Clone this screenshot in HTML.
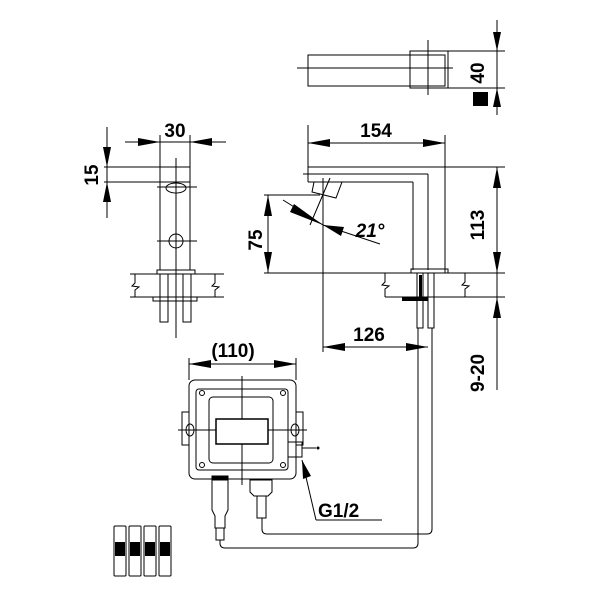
<!DOCTYPE html>
<html><head><meta charset="utf-8"><style>html,body{margin:0;padding:0;background:#fff}svg{display:block}</style></head>
<body>
<svg width="600" height="600" viewBox="0 0 600 600" xmlns="http://www.w3.org/2000/svg" font-family="'Liberation Sans',sans-serif" font-weight="bold">
<g fill="none" stroke="#000" stroke-width="1">
<rect x="308" y="55" width="137" height="31"/>
<rect x="410" y="51" width="38" height="37"/>
<line x1="297" y1="68" x2="453" y2="68"/>
<line x1="428" y1="40" x2="428" y2="95"/>
<line x1="448" y1="51" x2="505" y2="51"/>
<line x1="448" y1="88" x2="505" y2="88"/>
<line x1="497" y1="20" x2="497" y2="115"/>
<line x1="308" y1="143" x2="445" y2="143"/>
<line x1="308" y1="125" x2="308" y2="182"/>
<line x1="445" y1="135" x2="445" y2="273"/>
<line x1="308" y1="167" x2="505" y2="167"/>
<line x1="303" y1="174" x2="428" y2="174"/>
<line x1="428" y1="174" x2="428" y2="270"/>
<line x1="308" y1="182" x2="413" y2="182"/>
<line x1="413" y1="182" x2="413" y2="270"/>
<polygon points="314,182 342,182 336,198 312,192"/>
<line x1="310" y1="225" x2="330" y2="178"/>
<line x1="323" y1="178" x2="323" y2="352"/>
<line x1="264" y1="195" x2="320" y2="195"/>
<line x1="268" y1="195" x2="268" y2="273"/>
<line x1="264" y1="273" x2="505" y2="273"/>
<line x1="283" y1="200" x2="323" y2="225"/>
<line x1="323" y1="225" x2="380" y2="244"/>
<rect x="411" y="269" width="37" height="4"/>
<line x1="385" y1="297" x2="505" y2="297"/>
<path d="M385 273 V282 L382 285 L389 286 L385 289 V297"/>
<path d="M465 273 V282 L462 285 L469 286 L465 289 V297"/>
<rect x="417" y="273" width="6" height="55"/>
<rect x="428" y="273" width="6" height="55"/>
<line x1="497" y1="167" x2="497" y2="390"/>
<line x1="323" y1="347" x2="428" y2="347"/>
<line x1="418" y1="328" x2="418" y2="540"/>
<line x1="432" y1="328" x2="432" y2="526"/>
<line x1="125" y1="142" x2="226" y2="142"/>
<line x1="160" y1="135" x2="160" y2="270"/>
<line x1="190" y1="135" x2="190" y2="270"/>
<line x1="107" y1="127" x2="107" y2="218"/>
<line x1="104" y1="167" x2="190" y2="167"/>
<line x1="104" y1="182" x2="190" y2="182"/>
<line x1="176" y1="158" x2="176" y2="338"/>
<ellipse cx="176" cy="188" rx="10" ry="5"/>
<line x1="157" y1="187" x2="197" y2="187"/>
<circle cx="176" cy="241" r="7"/>
<line x1="157" y1="241" x2="197" y2="241"/>
<rect x="157" y="270" width="38" height="4"/>
<line x1="130" y1="274" x2="224" y2="274"/>
<line x1="130" y1="297" x2="224" y2="297"/>
<path d="M135 274 V283 L132 286 L139 287 L135 290 V297"/>
<path d="M215 274 V283 L212 286 L219 287 L215 290 V297"/>
<rect x="153" y="297" width="44" height="4"/>
<rect x="160" y="274" width="8" height="48"/>
<rect x="183" y="274" width="8" height="48"/>
<line x1="189" y1="364" x2="296" y2="364"/>
<line x1="189" y1="358" x2="189" y2="380"/>
<line x1="296" y1="358" x2="296" y2="380"/>
<rect x="189" y="380" width="107" height="99" rx="6"/>
<rect x="196" y="389" width="92" height="81" rx="3"/>
<rect x="209" y="397" width="64" height="66" rx="4"/>
<rect x="216" y="419" width="52" height="25" stroke-width="1.5"/>
<rect x="182" y="412" width="7" height="33"/>
<rect x="296" y="412" width="7" height="33"/>
<line x1="242" y1="376" x2="242" y2="419"/>
<line x1="242" y1="444" x2="242" y2="485"/>
<line x1="178" y1="430" x2="216" y2="430"/>
<line x1="268" y1="430" x2="307" y2="430"/>
<ellipse cx="190" cy="430" rx="4" ry="6"/>
<ellipse cx="295" cy="430" rx="4" ry="6"/>
<circle cx="202" cy="393" r="2.5"/><circle cx="283" cy="393" r="2.5"/>
<circle cx="202" cy="465" r="2.5"/><circle cx="283" cy="465" r="2.5"/>
<rect x="288" y="442" width="14" height="15"/>
<line x1="302" y1="448" x2="316" y2="448"/>
<line x1="302" y1="460" x2="316" y2="520"/>
<line x1="316" y1="520" x2="382" y2="520"/>
<rect x="212" y="476" width="16" height="4" fill="#000"/>
<path d="M212 480 H228 V510 L225 516 V528 H215 V516 L212 510 Z"/>
<rect x="216" y="528" width="8" height="12"/>
<path d="M250 480 H272 V492 L268 496 H254 L250 492 Z"/>
<rect x="257" y="496" width="9" height="22"/>
<path d="M220 540 V543 Q220 548 225 548 H413 Q418 548 418 543 V540"/>
<path d="M262 518 V529 Q262 534 267 534 H427 Q432 534 432 529 V526"/>
<rect x="114" y="526" width="12" height="50" rx="1"/>
<rect x="129" y="526" width="12" height="50" rx="1"/>
<rect x="144" y="526" width="12" height="50" rx="1"/>
<rect x="159" y="526" width="12" height="50" rx="1"/>
</g>
<g fill="#000">
<rect x="473" y="92" width="15" height="14"/>
<rect x="402" y="297" width="26" height="4"/>
<rect x="419" y="275" width="3" height="25"/>
<rect x="115" y="542" width="10" height="14"/><rect x="130" y="542" width="10" height="14"/>
<rect x="145" y="542" width="10" height="14"/><rect x="160" y="542" width="10" height="14"/>
<circle cx="318" cy="448" r="1.5"/>
<polygon points="497,51 493,32 501,32"/><polygon points="497,88 493,107 501,107"/>
<polygon points="308,143 330,139 330,147"/><polygon points="445,143 423,139 423,147"/>
<polygon points="497,167 493,188 501,188"/><polygon points="497,273 493,252 501,252"/>
<polygon points="497,297 493,318 501,318"/>
<polygon points="268,195 264,216 272,216"/><polygon points="268,273 264,252 272,252"/>
<polygon points="323,225 290,212 294,204"/><polygon points="323,225 344,227 341,236"/>
<polygon points="323,347 345,343 345,351"/><polygon points="428,347 406,343 406,351"/>
<polygon points="160,142 138,138 138,146"/><polygon points="190,142 212,138 212,146"/>
<polygon points="107,167 103,147 111,147"/><polygon points="107,182 103,202 111,202"/>
<polygon points="189,364 211,360 211,368"/><polygon points="296,364 274,360 274,368"/>
<polygon points="302,460 303,479 311,476"/>
</g>
<g fill="#000" font-size="19">
<text x="481" y="70" text-anchor="middle" transform="rotate(-90 484 70)">40</text>
<text x="376" y="137" text-anchor="middle">154</text>
<text x="481" y="222" text-anchor="middle" transform="rotate(-90 484 222)">113</text>
<text x="481" y="370" text-anchor="middle" transform="rotate(-90 484 370)">9-20</text>
<text x="262" y="240" text-anchor="middle" transform="rotate(-90 262 240)">75</text>
<text x="369" y="341" text-anchor="middle">126</text>
<text x="370" y="237" text-anchor="middle" font-style="italic">21°</text>
<text x="175" y="137" text-anchor="middle">30</text>
<text x="98" y="175" text-anchor="middle" transform="rotate(-90 98 175)">15</text>
<text x="233" y="357" text-anchor="middle">(110)</text>
<text x="318" y="517">G1/2</text>
</g>
</svg>
</body></html>
